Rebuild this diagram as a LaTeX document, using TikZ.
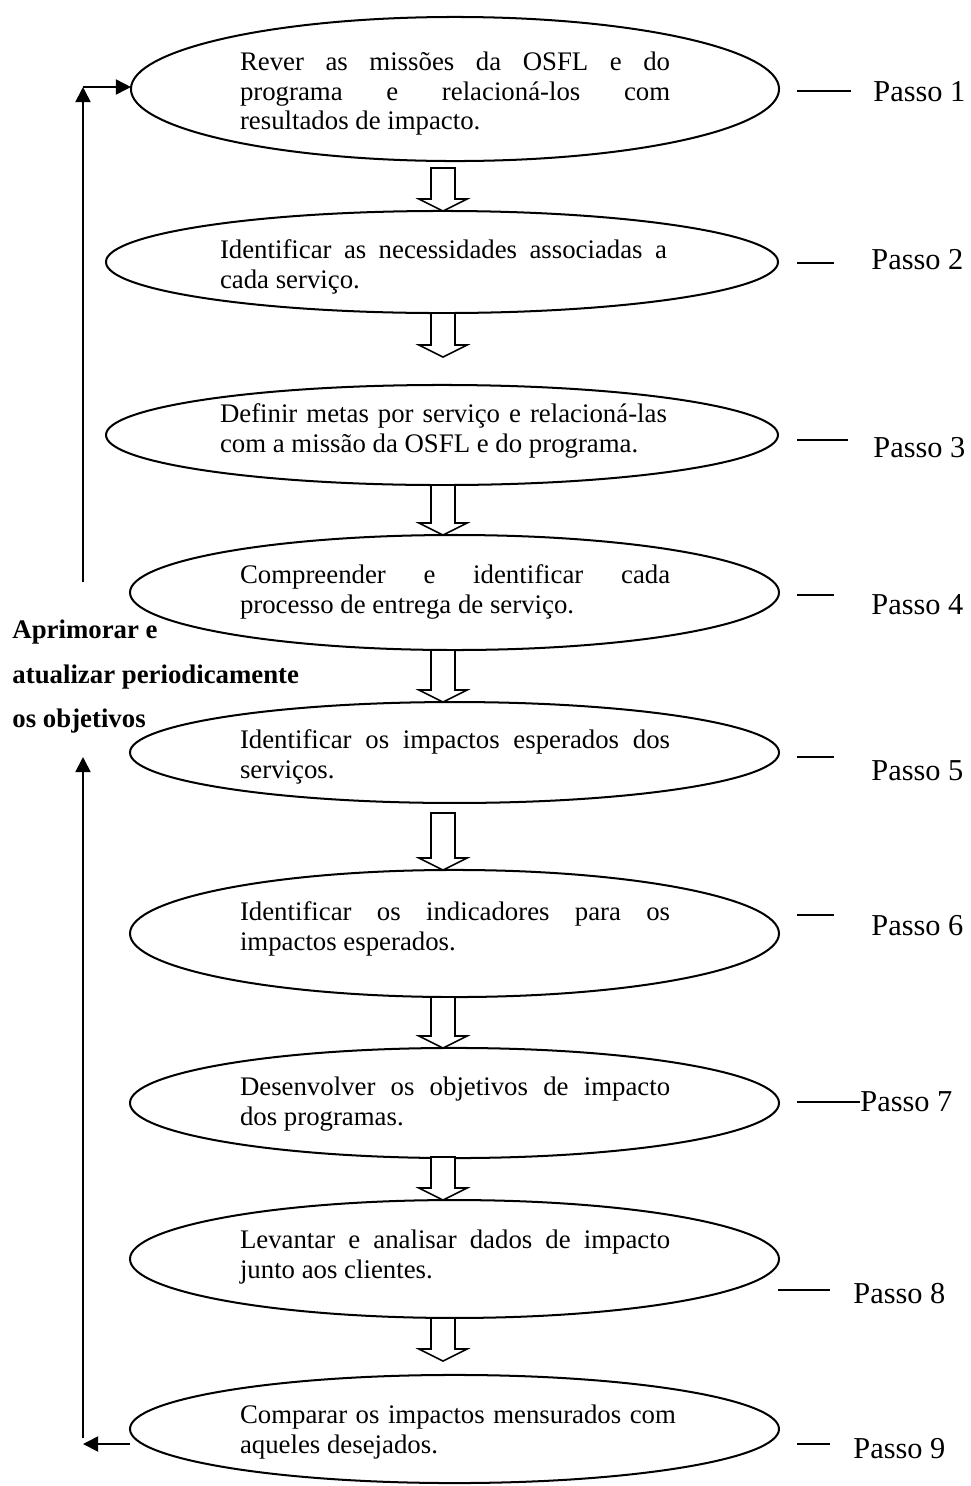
\documentclass[tikz,border=0pt]{standalone}
\usepackage{fontspec}
\setmainfont{Liberation Serif}
\usetikzlibrary{shapes.geometric,arrows.meta}

% hollow down arrow between two steps: shaft top y, tip y
\newcommand\flowarrow[2]{%
  \draw[hollowarrow] (431,#1) -- (455,#1) -- (455,#2-12) -- (467,#2-12)
    -- (443,#2) -- (419,#2-12) -- (431,#2-12) -- cycle;}

\begin{document}
\begin{tikzpicture}[x=0.44776pt,y=-0.44776pt,
  stepoval/.style={draw, ellipse, line width=0.9pt, inner sep=0pt, outer sep=0pt},
  steptext/.style={anchor=base west, inner sep=0pt, outer sep=0pt, align=justify,
    font=\fontsize{12}{13.43}\selectfont,
    execute at begin node={\tolerance=10000\hbadness=10000\hyphenpenalty=10000\parindent=0pt}},
  narrowtext/.style={steptext, text width=192.6pt},
  widetext/.style={steptext, text width=200.1pt},
  passolabel/.style={anchor=base west, inner sep=0pt, font=\fontsize{13.6}{16}\selectfont},
  looplabel/.style={anchor=base west, inner sep=0pt, font=\bfseries\fontsize{12}{14}\selectfont},
  hollowarrow/.style={draw, line width=0.7pt, fill=white, line join=miter},
  tick/.style={line width=0.7pt},
  loop/.style={line width=0.8pt, -{Triangle[length=6.8pt,width=6.8pt]}}]

\useasboundingbox (0,0) rectangle (971,1486);

% step ovals
\node[stepoval, minimum width=290.2pt, minimum height=64.5pt] (e1) at (455,89) {};
\node[stepoval, minimum width=300.9pt, minimum height=45.7pt] (e2) at (442,262) {};
\node[stepoval, minimum width=300.9pt, minimum height=44.8pt] (e3) at (442,435) {};
\node[stepoval, minimum width=290.6pt, minimum height=51.5pt] (e4) at (454.5,592.5) {};
\node[stepoval, minimum width=290.6pt, minimum height=45.2pt] (e5) at (454.5,752.5) {};
\node[stepoval, minimum width=290.6pt, minimum height=56.9pt] (e6) at (454.5,933.5) {};
\node[stepoval, minimum width=290.6pt, minimum height=49.3pt] (e7) at (454.5,1103) {};
\node[stepoval, minimum width=290.6pt, minimum height=52.8pt] (e8) at (454.5,1259) {};
\node[stepoval, minimum width=290.6pt, minimum height=48.4pt] (e9) at (454.5,1429) {};

% step texts
\node[narrowtext] (t1) at (240,70) {Rever as missões da OSFL e do\linebreak programa e relacioná-los com\linebreak resultados de impacto.};
\node[widetext] (t2) at (220,258) {Identificar as necessidades associadas a\linebreak cada serviço.};
\node[widetext] (t3) at (220,422) {Definir metas por serviço e relacioná-las\linebreak com a missão da OSFL e do programa.};
\node[narrowtext] (t4) at (240,583) {Compreender e identificar cada\linebreak processo de entrega de serviço.};
\node[narrowtext] (t5) at (240,748) {Identificar os impactos esperados dos\linebreak serviços.};
\node[narrowtext] (t6) at (240,920) {Identificar os indicadores para os\linebreak impactos esperados.};
\node[narrowtext] (t7) at (240,1095) {Desenvolver os objetivos de impacto\linebreak dos programas.};
\node[narrowtext] (t8) at (240,1248) {Levantar e analisar dados de impacto\linebreak junto aos clientes.};
\node[narrowtext, text width=195.2pt] (t9) at (240,1423) {Comparar os impactos mensurados com\linebreak aqueles desejados.};

% hollow arrows between steps
\flowarrow{168}{211}
\flowarrow{313}{357}
\flowarrow{485}{535}
\flowarrow{650}{702}
\flowarrow{813}{870}
\flowarrow{997}{1048}
\flowarrow{1157}{1200}
\flowarrow{1318}{1361}

% step labels with their ticks
\node[passolabel] (p1) at (873,101) {Passo 1};
\node[passolabel] (p2) at (871,269) {Passo 2};
\node[passolabel] (p3) at (873,457) {Passo 3};
\node[passolabel] (p4) at (871,614) {Passo 4};
\node[passolabel] (p5) at (871,780) {Passo 5};
\node[passolabel] (p6) at (871,935) {Passo 6};
\node[passolabel] (p7) at (860,1111) {Passo 7};
\node[passolabel] (p8) at (853,1303) {Passo 8};
\node[passolabel] (p9) at (853,1458) {Passo 9};

\coordinate (d1a) at (797,91);   \coordinate (d1b) at (851,91);
\coordinate (d2a) at (797,263);  \coordinate (d2b) at (834,263);
\coordinate (d3a) at (797,440);  \coordinate (d3b) at (848,440);
\coordinate (d4a) at (797,595);  \coordinate (d4b) at (834,595);
\coordinate (d5a) at (797,757);  \coordinate (d5b) at (834,757);
\coordinate (d6a) at (797,915);  \coordinate (d6b) at (834,915);
\coordinate (d7a) at (797,1102);
\coordinate (d8a) at (778,1290); \coordinate (d8b) at (830,1290);
\coordinate (d9a) at (797,1444); \coordinate (d9b) at (830,1444);
\foreach \k in {1,2,3,4,5,6,8,9} {\draw[tick] (d\k a) -- (d\k b);}
\draw[tick] (d7a) -- (p7.west |- d7a);

% feedback loop on the left
\coordinate (upTop) at (83,87);
\coordinate (upFoot) at (83,582);
\coordinate (lowTop) at (83,757);
\coordinate (lowFoot) at (83,1438);
\coordinate (backEnd) at (83,1444);
\draw[loop] (upFoot) -- (upTop);
\draw[loop] (upTop) -- (e1.west |- upTop);
\draw[loop] (lowFoot) -- (lowTop);
\draw[loop] (e9.west |- backEnd) -- (backEnd);

\node[looplabel] (l1) at (12,638) {Aprimorar e};
\node[looplabel] (l2) at (12,683) {atualizar periodicamente};
\node[looplabel] (l3) at (12,727) {os objetivos};

\end{tikzpicture}
\end{document}
